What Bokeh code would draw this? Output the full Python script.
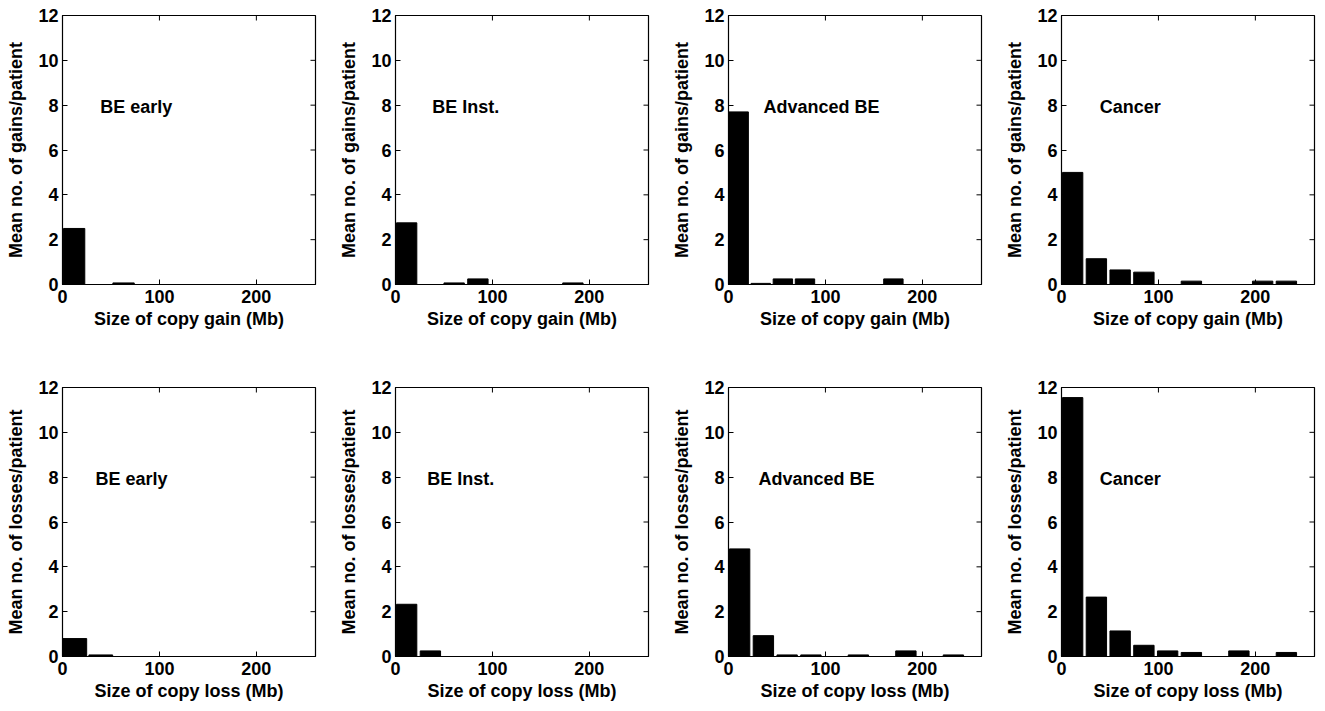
from bokeh.plotting import figure
from bokeh.models import Range1d, FixedTicker
from bokeh.layouts import column, row
from bokeh.embed import file_html
from bokeh.resources import INLINE
from bokeh.core.properties import value

# ---------------- data ----------------
groups = ["BE early", "BE Inst.", "Advanced BE", "Cancer"]

# bin centres (Mb) for each panel
centers_gain_be_early = [12, 37.5, 63, 88.5, 114, 139.5, 165, 190.5, 216, 241.5]
centers_std = [11.5, 36, 60.5, 85, 109.5, 134, 158.5, 183, 207.5, 232]
centers_gain_adv = [10.5, 33.3, 56.1, 78.9, 101.7, 124.5, 147.3, 170.1, 192.9, 215.7]
centers_loss_be_early = [12.7, 39.5, 66.3, 93.1, 119.9, 146.7, 173.5, 200.3, 227.1, 253.9]

# mean number of gains per patient
gain_be_early = [2.5, 0, 0.07, 0, 0, 0, 0, 0, 0, 0]
gain_be_inst = [2.75, 0, 0.07, 0.25, 0, 0, 0, 0.07, 0, 0]
gain_adv_be = [7.7, 0.05, 0.25, 0.25, 0, 0, 0, 0.25, 0, 0]
gain_cancer = [5.0, 1.15, 0.65, 0.55, 0, 0.15, 0, 0, 0.15, 0.15]

# mean number of losses per patient
loss_be_early = [0.8, 0.07, 0, 0, 0, 0, 0, 0, 0, 0]
loss_be_inst = [2.33, 0.25, 0, 0, 0, 0, 0, 0, 0, 0]
loss_adv_be = [4.8, 0.93, 0.07, 0.07, 0, 0.07, 0, 0.25, 0, 0.07]
loss_cancer = [11.55, 2.65, 1.14, 0.5, 0.25, 0.18, 0, 0.25, 0, 0.18]

x_ticks = [0, 100, 200]
y_ticks = [0, 2, 4, 6, 8, 10, 12]
x_max = 261
y_max = 12

gain_xlabel = "Size of copy gain (Mb)"
gain_ylabel = "Mean no. of gains/patient"
loss_xlabel = "Size of copy loss (Mb)"
loss_ylabel = "Mean no. of losses/patient"

# ---------------- styling / layout ----------------
FONT = "Liberation Sans"
FS = "18px"
FRAME_W = 253
FRAME_H = 269
LEFT = 62
TOP = 15
TICK_PX = 5


def make_panel(centers, heights, bar_w, label, text_x, xlab, ylab, width, height, bottom_b):
    p = figure(width=width, height=height, output_backend="svg", toolbar_location=None,
               x_range=Range1d(0, x_max), y_range=Range1d(0, y_max),
               min_border_left=LEFT, min_border_right=width - LEFT - FRAME_W,
               min_border_top=TOP, min_border_bottom=bottom_b,
               x_axis_label=xlab, y_axis_label=ylab)
    p.xgrid.visible = False
    p.ygrid.visible = False
    p.outline_line_color = "black"
    p.outline_line_width = 1.2
    p.background_fill_color = "white"
    p.border_fill_color = "white"

    xs = [c for c, h in zip(centers, heights) if h > 0]
    hs = [h for h in heights if h > 0]
    p.vbar(x=xs, top=hs, bottom=0, width=bar_w, fill_color="black", line_color="black", line_width=1)

    p.text(x=[text_x], y=[7.9], text=[label], text_font=value(FONT), text_font_style="bold",
           text_font_size=FS, text_baseline="middle", text_align="left", text_color="black")

    # mirrored inward ticks on top and right edges (MATLAB box style)
    dy = TICK_PX * y_max / FRAME_H
    dx = TICK_PX * x_max / FRAME_W
    p.segment(x0=x_ticks, y0=[y_max] * len(x_ticks), x1=x_ticks, y1=[y_max - dy] * len(x_ticks),
              line_color="black", line_width=1)
    p.segment(x0=[x_max] * len(y_ticks), y0=y_ticks, x1=[x_max - dx] * len(y_ticks), y1=y_ticks,
              line_color="black", line_width=1)

    p.xaxis.ticker = FixedTicker(ticks=x_ticks)
    p.yaxis.ticker = FixedTicker(ticks=y_ticks)
    for ax in list(p.xaxis) + list(p.yaxis):
        ax.major_tick_in = TICK_PX
        ax.major_tick_out = 0
        ax.minor_tick_line_color = None
        ax.axis_line_color = "black"
        ax.major_tick_line_color = "black"
        ax.major_label_text_font = FONT
        ax.major_label_text_font_style = "bold"
        ax.major_label_text_font_size = FS
        ax.major_label_text_color = "black"
        ax.axis_label_text_font = FONT
        ax.axis_label_text_font_style = "bold"
        ax.axis_label_text_font_size = FS
        ax.axis_label_text_color = "black"
    p.xaxis.major_label_standoff = 5
    p.xaxis.axis_label_standoff = 3
    p.yaxis.major_label_standoff = 4
    p.yaxis.axis_label_standoff = 9
    return p


col_w = [333, 333, 333, 326]
row1_h, row2_h = 372, 336
b1 = row1_h - TOP - FRAME_H
b2 = row2_h - TOP - FRAME_H

p1 = make_panel(centers_gain_be_early, gain_be_early, 22, groups[0], 39, gain_xlabel, gain_ylabel, col_w[0], row1_h, b1)
p2 = make_panel(centers_std, gain_be_inst, 21, groups[1], 38, gain_xlabel, gain_ylabel, col_w[1], row1_h, b1)
p3 = make_panel(centers_gain_adv, gain_adv_be, 20, groups[2], 36, gain_xlabel, gain_ylabel, col_w[2], row1_h, b1)
p4 = make_panel(centers_std, gain_cancer, 21, groups[3], 39.5, gain_xlabel, gain_ylabel, col_w[3], row1_h, b1)

p5 = make_panel(centers_loss_be_early, loss_be_early, 24.5, groups[0], 34, loss_xlabel, loss_ylabel, col_w[0], row2_h, b2)
p6 = make_panel(centers_std, loss_be_inst, 21, groups[1], 32.7, loss_xlabel, loss_ylabel, col_w[1], row2_h, b2)
p7 = make_panel(centers_std, loss_adv_be, 21, groups[2], 31, loss_xlabel, loss_ylabel, col_w[2], row2_h, b2)
p8 = make_panel(centers_std, loss_cancer, 21, groups[3], 39.5, loss_xlabel, loss_ylabel, col_w[3], row2_h, b2)

layout = column(row(p1, p2, p3, p4), row(p5, p6, p7, p8))

open("out.html", "w").write(file_html(layout, INLINE))
